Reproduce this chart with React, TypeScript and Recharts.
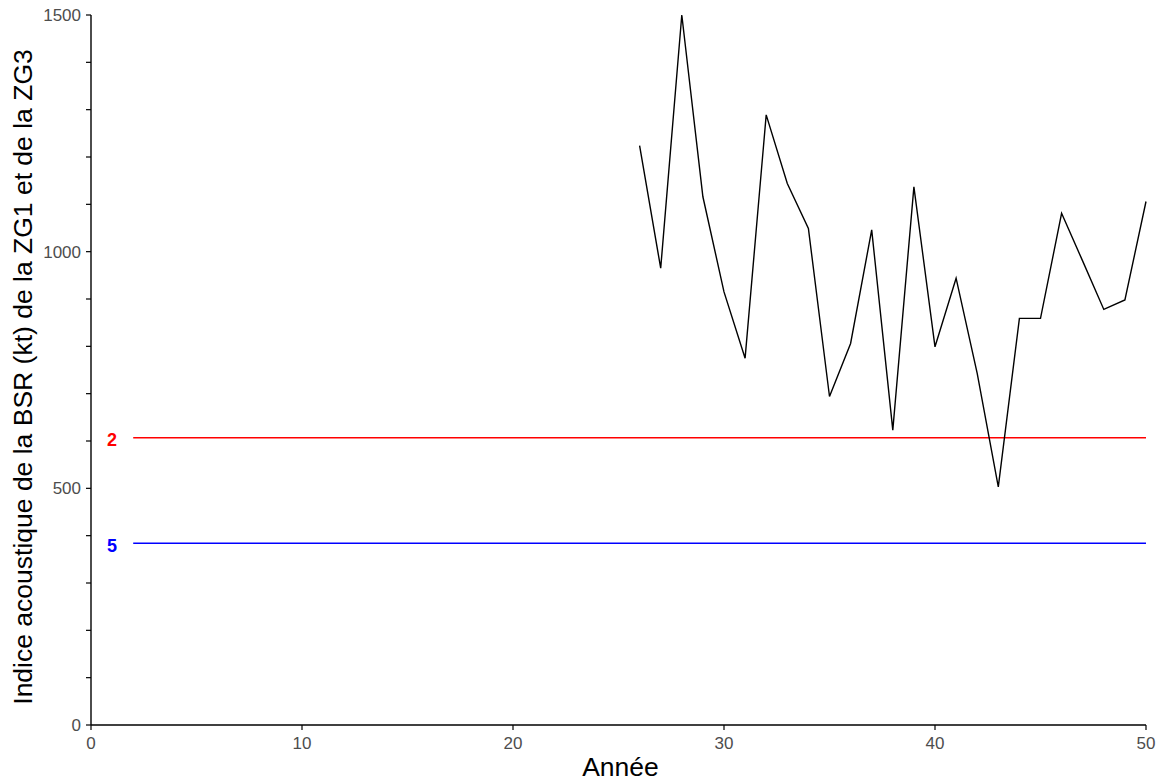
import React from 'react';
import { LineChart, Line, XAxis, YAxis, ReferenceLine, ReferenceDot, Label } from 'recharts';

const years = [26, 27, 28, 29, 30, 31, 32, 33, 34, 35, 36, 37, 38, 39, 40, 41, 42, 43, 44, 45, 46, 47, 48, 49, 50];
const indexValues = [1224, 965, 1500, 1116, 915, 775, 1289, 1144, 1049, 694, 806, 1046, 623, 1137, 799, 944, 743, 503, 859, 859, 1081, 980, 878, 898, 1106];
const xTicks = [0, 10, 20, 30, 40, 50];
const yTicks = [0, 100, 200, 300, 400, 500, 600, 700, 800, 900, 1000, 1100, 1200, 1300, 1400, 1500];
const redLevel = 607;
const blueLevel = 384;
const refStart = 2;
const refEnd = 50;
const labelX = 1;
const xTitle = 'Année';
const yTitle = 'Indice acoustique de la BSR (kt) de la ZG1 et de la ZG3';

const data = years.map((y, i) => ({ year: y, value: indexValues[i] }));

const FONT = '"Liberation Sans", Arial, sans-serif';
const TITLE_SIZE = 26.5;

const XTitle = (props: any) => {
  const vb = props.viewBox || {};
  const cx = vb.x + vb.width / 2 + 2;
  const y = vb.y + 51;
  return (
    <text x={cx} y={y} textAnchor="middle" fill="#000" fontSize={TITLE_SIZE} fontFamily={FONT}>
      {xTitle}
    </text>
  );
};

const YTitle = (props: any) => {
  const vb = props.viewBox || {};
  const bx = vb.x + 32;
  const cy = vb.y + vb.height / 2 + 7;
  return (
    <text x={0} y={0} transform={`translate(${bx},${cy}) rotate(-90)`} textAnchor="middle" fill="#000" fontSize={TITLE_SIZE} fontFamily={FONT}>
      {yTitle}
    </text>
  );
};

export default function App() {
  return (
    <div style={{ position: 'absolute', left: 0, top: 0 }}>
      <LineChart width={1163} height={780} data={data} margin={{ top: 15, right: 17, bottom: 0, left: 0 }}>
        <XAxis
          dataKey="year"
          type="number"
          domain={[0, 50]}
          ticks={xTicks}
          height={55}
          tickSize={5}
          tickMargin={7}
          axisLine={{ stroke: '#000', strokeWidth: 1.4 }}
          tickLine={{ stroke: '#000', strokeWidth: 1.2 }}
          tick={{ fill: '#4d4d4d', fontSize: 17, fontFamily: FONT }}
        >
          <Label content={XTitle} />
        </XAxis>
        <YAxis
          type="number"
          domain={[0, 1500]}
          ticks={yTicks}
          interval={0}
          width={91}
          tickSize={5}
          tickMargin={5}
          axisLine={{ stroke: '#000', strokeWidth: 1.4 }}
          tickLine={{ stroke: '#000', strokeWidth: 1.2 }}
          tickFormatter={(v: number) => (v % 500 === 0 ? String(v) : '')}
          tick={{ fill: '#4d4d4d', fontSize: 17, fontFamily: FONT }}
        >
          <Label content={YTitle} />
        </YAxis>
        <ReferenceLine segment={[{ x: refStart, y: redLevel }, { x: refEnd, y: redLevel }]} stroke="#ff0000" strokeWidth={1.5} />
        <ReferenceLine segment={[{ x: refStart, y: blueLevel }, { x: refEnd, y: blueLevel }]} stroke="#0000ff" strokeWidth={1.5} />
        <ReferenceDot x={labelX} y={redLevel} r={1} fill="none" stroke="none" label={{ value: '2', position: 'center', dy: 2, fill: '#ff0000', fontSize: 18, fontWeight: 'bold', fontFamily: FONT }} />
        <ReferenceDot x={labelX} y={blueLevel} r={1} fill="none" stroke="none" label={{ value: '5', position: 'center', dy: 2, fill: '#0000ff', fontSize: 18, fontWeight: 'bold', fontFamily: FONT }} />
        <Line type="linear" dataKey="value" stroke="#000" strokeWidth={1.4} dot={false} isAnimationActive={false} />
      </LineChart>
    </div>
  );
}
